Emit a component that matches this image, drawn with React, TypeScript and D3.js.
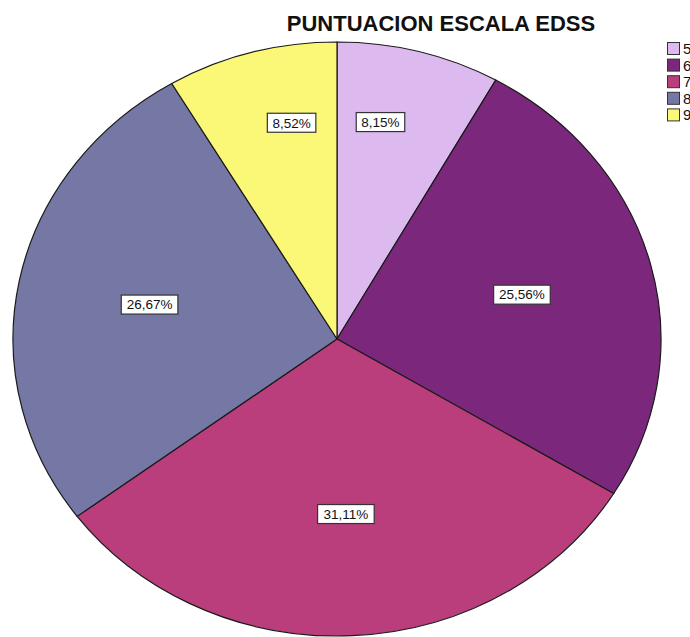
import React from "react";
import * as d3 from "d3";

const categories = ["5", "6", "7", "8", "9"];
const values = [8.15, 25.56, 31.11, 26.67, 8.52];
const labels = ["8,15%", "25,56%", "31,11%", "26,67%", "8,52%"];
const colors = ["#dcb9ef", "#7b287c", "#ba3e7c", "#7577a5", "#fbf777"];
const title = "PUNTUACION ESCALA EDSS";

const W = 690;
const H = 637;
const cx = 337;
const cy = 339;
const rx = 324;
const ry = 297;

export default function App() {
  const pie = d3.pie<number>().sort(null).startAngle(0).endAngle(2 * Math.PI);
  const arcs = pie(values);
  const px = (a: number, f = 1) => cx + rx * f * Math.sin(a);
  const py = (a: number, f = 1) => cy - ry * f * Math.cos(a);

  const legendY = d3.scaleBand<string>().domain(categories).range([42, 42 + 16.6 * categories.length]);

  return (
    <svg width={W} height={H} style={{ position: "absolute", left: 0, top: 0 }} fontFamily="'Liberation Sans', Arial, sans-serif">
      <rect width={W} height={H} fill="#ffffff" />
      {arcs.map((d, i) => {
        const large = d.endAngle - d.startAngle > Math.PI ? 1 : 0;
        const path = `M${cx},${cy} L${px(d.startAngle)},${py(d.startAngle)} A${rx},${ry} 0 ${large} 1 ${px(d.endAngle)},${py(d.endAngle)} Z`;
        return <path key={i} d={path} fill={colors[i]} stroke="#1a1a1a" strokeWidth={1.2} strokeLinejoin="round" />;
      })}
      {arcs.map((d, i) => {
        const mid = (d.startAngle + d.endAngle) / 2;
        const small = d.value < 10;
        const fx = small ? 0.53 : 0.59;
        const fy = small ? 0.755 : 0.59;
        const x = px(mid, fx);
        const y = py(mid, fy);
        const w = labels[i].length * 8.1 + 8;
        const h = 19;
        return (
          <g key={"l" + i}>
            <rect x={x - w / 2} y={y - h / 2} width={w} height={h} fill="#ffffff" stroke="#333333" strokeWidth={1.2} />
            <text x={x} y={y + 4.8} textAnchor="middle" fontSize={13.5} fill="#111">{labels[i]}</text>
          </g>
        );
      })}
      <text x={441} y={31} textAnchor="middle" fontSize={22} fontWeight="bold" fill="#111">{title}</text>
      {categories.map((c, i) => {
        const y = legendY(c)!;
        return (
          <g key={"g" + i}>
            <rect x={667.5} y={y + 0.5} width={12} height={12} fill={colors[i]} stroke="#333" strokeWidth={1} />
            <text x={683} y={y + 12} fontSize={15} fill="#111">{c}</text>
          </g>
        );
      })}
    </svg>
  );
}
